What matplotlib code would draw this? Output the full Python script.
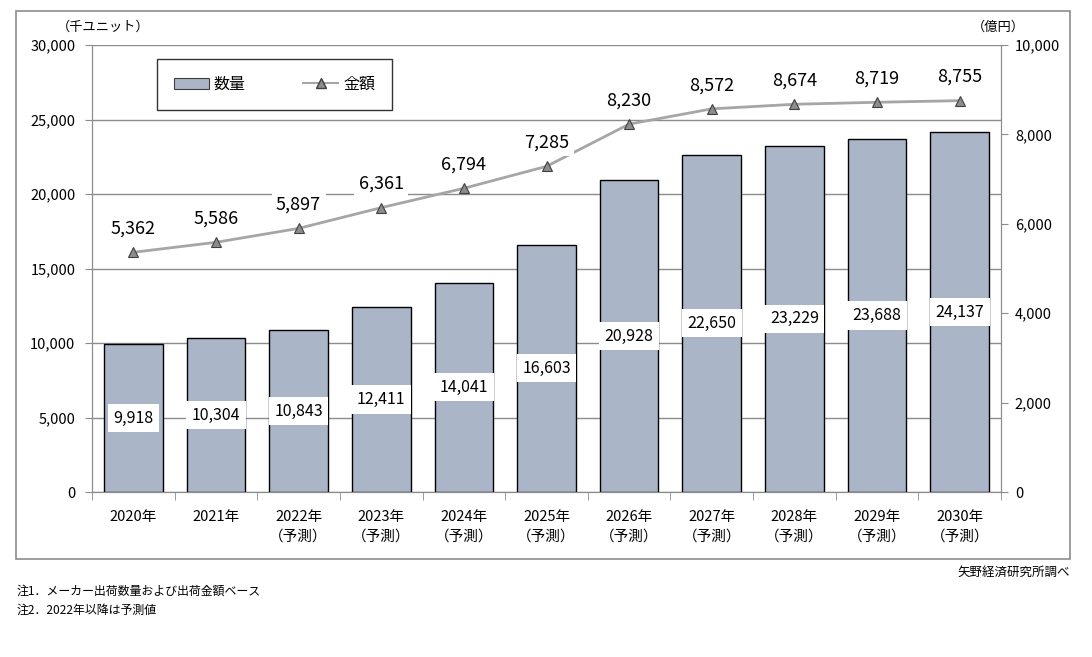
import matplotlib
matplotlib.use("Agg")
import matplotlib.pyplot as plt
from matplotlib.patches import Rectangle, Patch
from matplotlib.lines import Line2D

plt.rcParams['font.family'] = ['Noto Sans CJK JP', 'DejaVu Sans']

years = ["2020年", "2021年", "2022年", "2023年", "2024年", "2025年",
         "2026年", "2027年", "2028年", "2029年", "2030年"]
forecast = [False, False, True, True, True, True, True, True, True, True, True]
quantity = [9918, 10304, 10843, 12411, 14041, 16603, 20928, 22650, 23229, 23688, 24137]
amount = [5362, 5586, 5897, 6361, 6794, 7285, 8230, 8572, 8674, 8719, 8755]

W, H = 1092, 657
fig = plt.figure(figsize=(W / 100, H / 100), dpi=100)
fig.patch.set_facecolor("white")

# outer frame
fig.patches.append(Rectangle((16 / W, 1 - 559 / H), (1070 - 16) / W, (559 - 11) / H,
                             transform=fig.transFigure, fill=False,
                             edgecolor="#8c8c8c", linewidth=1.2))

ax = fig.add_axes([92 / W, 1 - 492 / H, (1001 - 92) / W, (492 - 45) / H])
x = list(range(len(years)))
bar_color = "#abb5c8"
ax.bar(x, quantity, width=0.71, color=bar_color, edgecolor="black", linewidth=1.0, zorder=3)
ax.set_xlim(-0.5, len(years) - 0.5)
ax.set_ylim(0, 30000)
ax.set_yticks(range(0, 30001, 5000))
ax.set_yticklabels([f"{v:,}" for v in range(0, 30001, 5000)], fontsize=10.5)
ax.yaxis.grid(True, color="#8c8c8c", linewidth=1.0, zorder=0)
ax.set_axisbelow(True)
for s in ["left", "bottom", "right"]:
    ax.spines[s].set_color("#8c8c8c")
ax.spines["top"].set_visible(False)
ax.tick_params(axis="y", length=5, color="#8c8c8c", pad=7, direction="out")

labels = [y + ("\n（予測）" if f else "") for y, f in zip(years, forecast)]
ax.set_xticks(x)
ax.set_xticklabels(labels, fontsize=10.5, linespacing=1.5, va="top")
ax.tick_params(axis="x", length=0, pad=13)
# ticks between categories
ax.set_xticks([i - 0.5 for i in range(len(years) + 1)], minor=True)
ax.tick_params(axis="x", which="minor", length=6, color="#8c8c8c", direction="out")

for xi, q in zip(x, quantity):
    ax.text(xi, q / 2, f"{q:,}", ha="center", va="center", fontsize=11.5, zorder=5,
            bbox=dict(boxstyle="square,pad=0.35", facecolor="white", edgecolor="none"))

ax2 = ax.twinx()
ax2.set_ylim(0, 10000)
ax2.set_yticks(range(0, 10001, 2000))
ax2.set_yticklabels([f"{v:,}" for v in range(0, 10001, 2000)], fontsize=10.5)
ax2.tick_params(axis="y", length=5, color="#8c8c8c", pad=5, direction="out")
for s in ["left", "bottom", "right"]:
    ax2.spines[s].set_color("#8c8c8c")
ax2.spines["top"].set_visible(False)
ax2.plot(x, amount, color="#a6a6a6", linewidth=2.0, marker="^", markersize=7,
         markerfacecolor="#8c8c8c", markeredgecolor="#404040", markeredgewidth=0.8, zorder=4)
for xi, a in zip(x, amount):
    ax2.annotate(f"{a:,}", (xi, a), xytext=(0, 17), textcoords="offset points",
                 ha="center", va="center", fontsize=13, zorder=5,
                 bbox=dict(boxstyle="square,pad=0.25", facecolor="white", edgecolor="none"))

# axis unit labels
fig.text(57 / W, 1 - 27 / H, "（千ユニット）", fontsize=9.5, ha="left", va="center")
fig.text(972 / W, 1 - 27 / H, "（億円）", fontsize=9.5, ha="left", va="center")

# legend
handles = [Patch(facecolor=bar_color, edgecolor="#404040", linewidth=0.8, label="数量"),
           Line2D([0], [0], color="#a6a6a6", linewidth=1.5, marker="^", markersize=7,
                  markerfacecolor="#8c8c8c", markeredgecolor="#404040", label="金額")]
leg = fig.legend(handles=handles, loc="upper left",
                 bbox_to_anchor=(157 / W, 1 - 59 / H), ncol=2, frameon=True,
                 fancybox=False, edgecolor="black", fontsize=11.5,
                 borderpad=1.05, borderaxespad=0.0, columnspacing=3.6,
                 handlelength=2.2, handletextpad=0.3)
leg.get_frame().set_linewidth(1.0)

# notes
fig.text(17 / W, 1 - 591 / H, "注1．メーカー出荷数量および出荷金額ベース", fontsize=8.6, ha="left", va="center")
fig.text(17 / W, 1 - 610 / H, "注2．2022年以降は予測値", fontsize=8.6, ha="left", va="center")
fig.text(1070 / W, 1 - 572 / H, "矢野経済研究所調べ", fontsize=9, ha="right", va="center")

fig.savefig("out.png", dpi=100, facecolor="white")
